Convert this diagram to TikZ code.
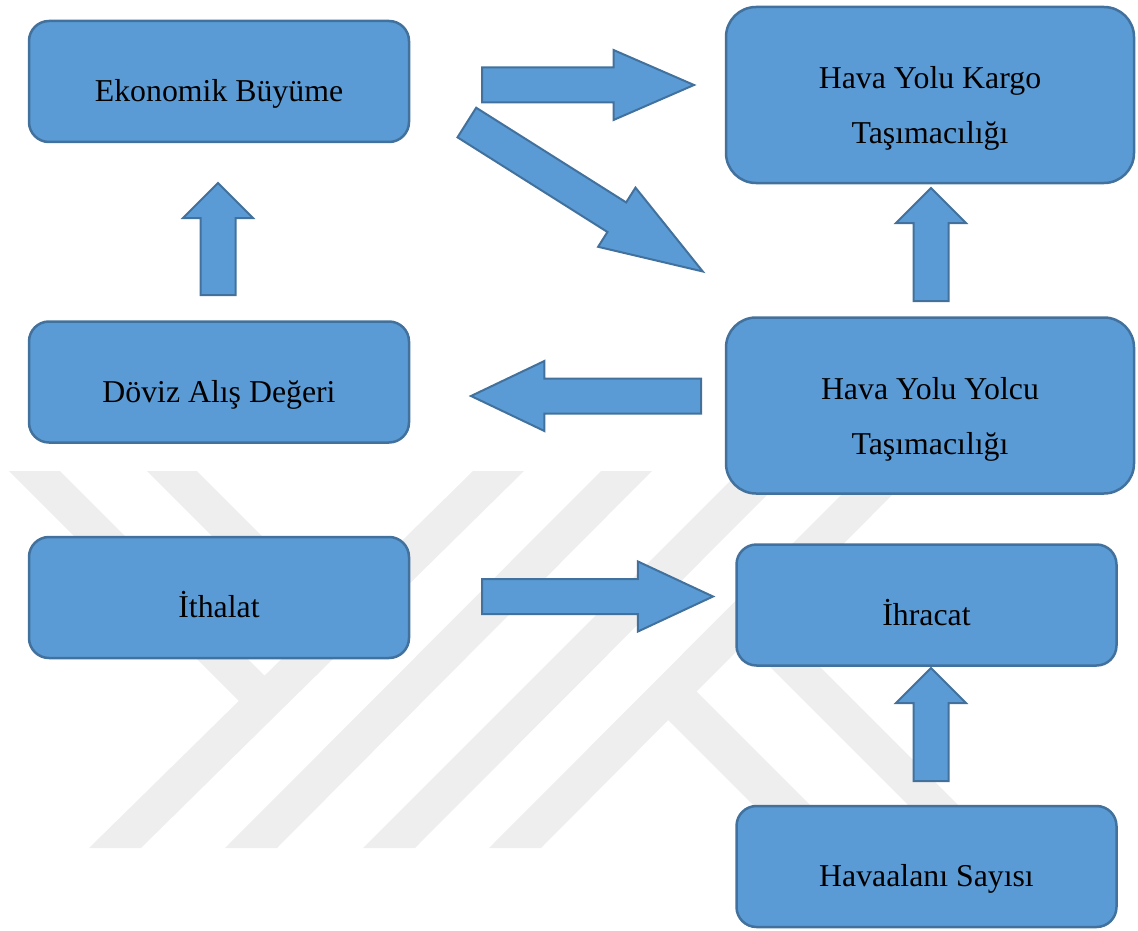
\documentclass[tikz,border=0pt]{standalone}
\usepackage{fontspec}
\setmainfont{Liberation Serif}
\usepackage{tikz}
\usetikzlibrary{positioning}
\usetikzlibrary{shapes,shapes.arrows}
\definecolor{boxfill}{HTML}{5B9BD5}
\definecolor{boxline}{HTML}{41719C}
\definecolor{wmark}{HTML}{EEEEEE}
\tikzstyle{inode} = [rectangle, draw=boxline, fill=boxfill, line width=2.5pt, rounded corners=20pt, minimum width=380pt, minimum height=121pt, align=center, font=\fontsize{31.8pt}{55pt}\selectfont, execute at begin node={\rule[-8pt]{0pt}{56pt}}]
\tikzstyle{bignode} = [inode, rounded corners=30pt, minimum width=408pt, minimum height=176pt, execute at begin node={\rule[-8pt]{0pt}{113pt}}]
\tikzstyle{blockarrow} = [single arrow, draw=boxline, fill=boxfill, line width=2pt, inner xsep=0pt, inner ysep=16.5pt, minimum width=0pt, single arrow head extend=17.5pt, pos=0, sloped, allow upside down, anchor=tail]

\begin{document}
\begin{tikzpicture}[x=1pt, y=-1pt]
    \useasboundingbox (0,0) rectangle (1138,931);
    % watermark
    \foreach \t/\b in {473/89, 601/225, 740/363, 865/489}
        \fill [wmark] (\t,471) -- (\t+51,471) -- (\b+52,848) -- (\b,848) -- cycle;
    \fill [wmark] (9,471) -- (60,471) -- (278,689) -- (252,714) -- cycle;
    \fill [wmark] (147,471) -- (197,471) -- (346,620) -- (321,645) -- cycle;
    \fill [wmark] (683,678) -- (853,848) -- (796,848) -- (655,707) -- cycle;
    \fill [wmark] (757,604) -- (1001,848) -- (951,848) -- (732,629) -- cycle;

    % place nodes
    \node [inode] (N1) at (219,81.5) {Ekonomik Büyüme};
    \node [bignode] (N2) at (930,95) {Hava Yolu Kargo\\Taşımacılığı};
    \node [inode, below=177pt of N1] (N3) {Döviz Alış Değeri};
    \node [bignode, below=132pt of N2] (N4) {Hava Yolu Yolcu\\Taşımacılığı};
    \node [inode, below=92pt of N3] (N5) {İthalat};
    \node [inode] (N6) at (926.5,605) {İhracat};
    \node [inode, below=138pt of N6] (N7) {Havaalanı Sayısı};

    % arrow ends
    \coordinate (A1s) at (481,85);    \coordinate (A1e) at (693,85);
    \coordinate (A2s) at (466,122);   \coordinate (A2e) at (702,271);
    \coordinate (A3s) at (218,296);   \coordinate (A3e) at (218,184);
    \coordinate (A4s) at (931,302);   \coordinate (A4e) at (931,189);
    \coordinate (A5s) at (702,396);   \coordinate (A5e) at (472,396);
    \coordinate (A6s) at (481,596.5); \coordinate (A6e) at (712,596.5);
    \coordinate (A7s) at (931,782);   \coordinate (A7e) at (931,669);

    % draw edges
    \path (A1s) -- (A1e) node [blockarrow, minimum height=212pt, single arrow tip angle=47] (A1) {};
    \path (A2s) -- (A2e) node [blockarrow, minimum height=279pt, single arrow tip angle=38] (A2) {};
    \path (A3s) -- (A3e) node [blockarrow, minimum height=112pt, single arrow tip angle=90] (A3) {};
    \path (A4s) -- (A4e) node [blockarrow, minimum height=113pt, single arrow tip angle=90] (A4) {};
    \path (A5s) -- (A5e) node [blockarrow, minimum height=230pt, single arrow tip angle=51] (A5) {};
    \path (A6s) -- (A6e) node [blockarrow, minimum height=231pt, single arrow tip angle=50] (A6) {};
    \path (A7s) -- (A7e) node [blockarrow, minimum height=113pt, single arrow tip angle=90] (A7) {};
\end{tikzpicture}
\end{document}
